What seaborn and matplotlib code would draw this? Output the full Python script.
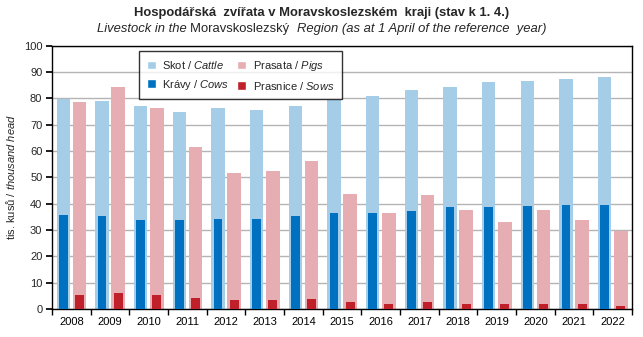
import matplotlib
matplotlib.use("Agg")
import matplotlib.pyplot as plt
import seaborn as sns
import pandas as pd
import numpy as np
from matplotlib.patches import Patch

years = ["2008", "2009", "2010", "2011", "2012", "2013", "2014", "2015",
         "2016", "2017", "2018", "2019", "2020", "2021", "2022"]
cattle = [79.8, 79.2, 77.3, 75.0, 76.5, 75.8, 77.3, 79.5, 81.1, 83.3, 84.5, 86.4, 86.7, 87.5, 88.3]
pigs = [78.6, 84.3, 76.3, 61.5, 51.7, 52.4, 56.2, 43.7, 36.5, 43.3, 37.6, 33.0, 37.6, 33.8, 29.6]
cows = [35.7, 35.3, 33.8, 33.8, 34.2, 34.2, 35.3, 36.5, 36.5, 37.2, 38.7, 38.7, 39.1, 39.5, 39.5]
sows = [5.3, 6.1, 5.3, 4.2, 3.4, 3.4, 3.8, 2.7, 1.9, 2.7, 1.9, 1.9, 1.9, 1.9, 1.1]

c_cattle = "#a6cde8"
c_pigs = "#e6aeb3"
c_cows = "#0070c0"
c_sows = "#c0202a"

sns.set_theme(style="white")
plt.rcParams["font.family"] = ["Liberation Sans", "DejaVu Sans"]
plt.rcParams["mathtext.fontset"] = "custom"
plt.rcParams["mathtext.rm"] = "Liberation Sans"
plt.rcParams["mathtext.it"] = "Liberation Sans:italic"
plt.rcParams["mathtext.bf"] = "Liberation Sans:bold"

outer = pd.DataFrame({
    "year": years * 2,
    "kind": ["Cattle"] * len(years) + ["Pigs"] * len(years),
    "value": cattle + pigs,
})
inner = pd.DataFrame({
    "year": years * 2,
    "kind": ["Cows"] * len(years) + ["Sows"] * len(years),
    "value": cows + sows,
})

fig = plt.figure(figsize=(6.43, 3.37), dpi=100)
ax = fig.add_axes([0.081, 0.083, 0.902, 0.781])

sns.barplot(data=outer, x="year", y="value", hue="kind", order=years,
            palette=[c_cattle, c_pigs], width=0.84, gap=0.17, dodge=True,
            saturation=1, legend=False, ax=ax, zorder=2, linewidth=0, edgecolor="none")
sns.barplot(data=inner, x="year", y="value", hue="kind", order=years,
            palette=[c_cows, c_sows], width=0.84, gap=0.46, dodge=True,
            saturation=1, legend=False, ax=ax, zorder=3, linewidth=0, edgecolor="none")

ax.set_xlim(-0.5, len(years) - 0.5)
ax.set_ylim(0, 100)
ax.set_yticks(np.arange(0, 101, 10))
ax.yaxis.grid(True, color="#b4b4b4", linewidth=1)
ax.set_axisbelow(True)
for s in ax.spines.values():
    s.set_color("black")
    s.set_linewidth(1)

ax.set_xticks(np.arange(len(years)))
ax.set_xticklabels(years)
ax.set_xticks(np.arange(-0.5, len(years), 1), minor=True)
ax.tick_params(axis="x", which="major", length=0, labelsize=8, pad=6, colors="black")
ax.tick_params(axis="x", which="minor", length=4, direction="out", color="black", bottom=True)
ax.tick_params(axis="y", length=4, direction="out", color="black", labelsize=8, left=True, pad=3)
ax.set_xlabel("")
ax.set_ylabel(r"tis. kusů / $\mathit{thousand\ head}$", fontsize=8, labelpad=5)

fig.text(0.5, 0.962, "Hospodářská  zvířata v Moravskoslezském  kraji (stav k 1. 4.)",
         ha="center", va="center", fontsize=9.4, fontweight="bold")

# subtitle built from pieces with mixed styles
pieces = [("Livestock in the ", "italic"), ("Moravskoslezský  ", "normal"),
          ("Region (as at 1 April of the reference  year)", "italic")]
texts = [fig.text(0, 0.914, s, ha="left", va="center", fontsize=9.4, fontstyle=st)
         for s, st in pieces]
fig.canvas.draw()
r = fig.canvas.get_renderer()
widths = [t.get_window_extent(renderer=r).width for t in texts]
total = sum(widths)
figw = fig.get_size_inches()[0] * fig.dpi
x = (figw - total) / 2
for t, w in zip(texts, widths):
    t.set_x(x / figw)
    x += w

handles = [Patch(facecolor=c_cattle), Patch(facecolor=c_cows),
           Patch(facecolor=c_pigs), Patch(facecolor=c_sows)]
labels = [r"Skot / $\mathit{Cattle}$", r"Krávy / $\mathit{Cows}$",
          r"Prasata / $\mathit{Pigs}$", r"Prasnice / $\mathit{Sows}$"]
leg = ax.legend(handles, labels, ncol=2, loc="upper left", bbox_to_anchor=(0.15, 0.98),
                borderaxespad=0, fontsize=8, frameon=True, fancybox=False,
                handlelength=0.8, handleheight=0.8, handletextpad=0.6,
                columnspacing=0.7, labelspacing=0.6, borderpad=0.7)
leg.get_frame().set_edgecolor("black")
leg.get_frame().set_linewidth(1)
leg.set_zorder(5)

fig.savefig("out.png", dpi=100)
